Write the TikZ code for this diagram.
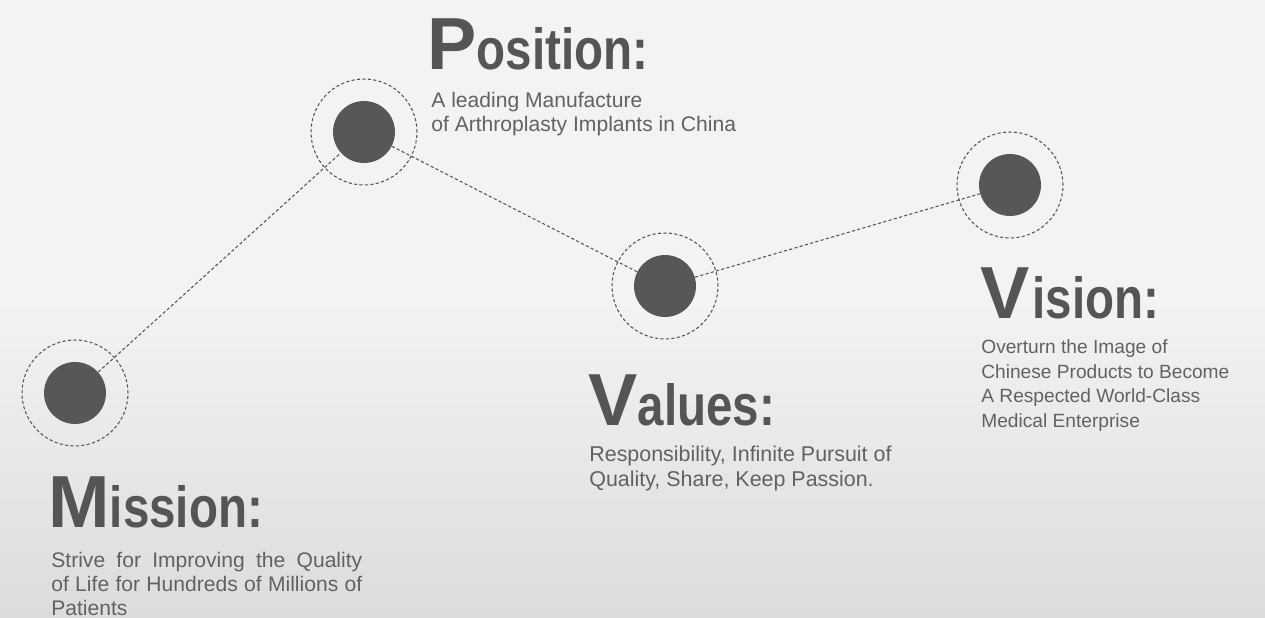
\documentclass[tikz,border=0pt]{standalone}
\usepackage{fontspec}
\usepackage{graphicx}
\setmainfont{Liberation Sans}
\definecolor{dotgray}{RGB}{88,86,87}
\definecolor{titlegray}{RGB}{85,85,85}
\definecolor{bodygray}{RGB}{98,98,98}
\definecolor{bgtop}{RGB}{243,243,243}
\definecolor{bgbot}{RGB}{220,220,220}
\newcommand{\capword}[2]{{\fontsize{42pt}{42pt}\selectfont\bfseries #1}\scalebox{0.82}[1]{\fontsize{33pt}{33pt}\selectfont\bfseries #2}}

\begin{document}
\begin{tikzpicture}[x=0.02cm,y=-0.02cm,
  bigdot/.style={circle,fill=dotgray,inner sep=0pt,minimum size=1.24cm},
  dashring/.style={circle,draw=titlegray,line width=0.6pt,dash pattern=on 1.8pt off 1.3pt,inner sep=0pt,minimum size=2.12cm},
  link/.style={draw=titlegray,line width=0.6pt,dash pattern=on 1.8pt off 1.3pt},
  headtxt/.style={anchor=base west,inner sep=0pt,text=titlegray},
  bodytxt/.style={anchor=base west,inner sep=0pt,text=bodygray,align=left,font=\fontsize{#1}{13.9pt}\selectfont},
  bodytxt/.default=11.8pt]

\useasboundingbox (0,0) rectangle (1265,618);
\fill[bgtop] (0,0) rectangle (1265,618);
\shade[top color=bgtop,bottom color=bgbot] (0,300) rectangle (1265,618);

% dots
\node[bigdot] (mis) at (75,393) {};
\node[bigdot] (pos) at (364,132) {};
\node[bigdot] (val) at (665,286) {};
\node[bigdot] (vis) at (1010,185) {};
\node[dashring] (misR) at (mis) {};
\node[dashring] (posR) at (pos) {};
\node[dashring] (valR) at (val) {};
\node[dashring] (visR) at (vis) {};

% links
\draw[link] (mis) -- (pos);
\draw[link] (pos) -- (val);
\draw[link] (val) -- (vis);

% texts (left-aligned bodies sit on their last baseline, the justified one on its first)
\node[headtxt] (misT) at (48,527) {\capword{M}{ission:}};
\node[bodytxt=12pt,text width=6.22cm,align=justify] (misB) at (51,567) {Strive for Improving the Quality\linebreak of Life for Hundreds of Millions of\linebreak Patients};

\node[headtxt] (posT) at (427,70) {\capword{P}{osition:}};
\node[bodytxt=12pt] (posB) at (431,132) {A leading Manufacture\\of Arthroplasty Implants in China};

\node[headtxt] (valT) at (588,425) {\capword{V}{alues:}};
\node[bodytxt=12.2pt] (valB) at (589,486) {Responsibility, Infinite Pursuit of\\Quality, Share, Keep Passion.};

\node[headtxt] (visT) at (980,318) {\capword{V}{\kern2pt ision:}};
\node[bodytxt=10.9pt] (visB) at (981,427) {Overturn the Image of\\Chinese Products to Become\\A Respected World-Class\\Medical Enterprise};
\end{tikzpicture}
\end{document}
